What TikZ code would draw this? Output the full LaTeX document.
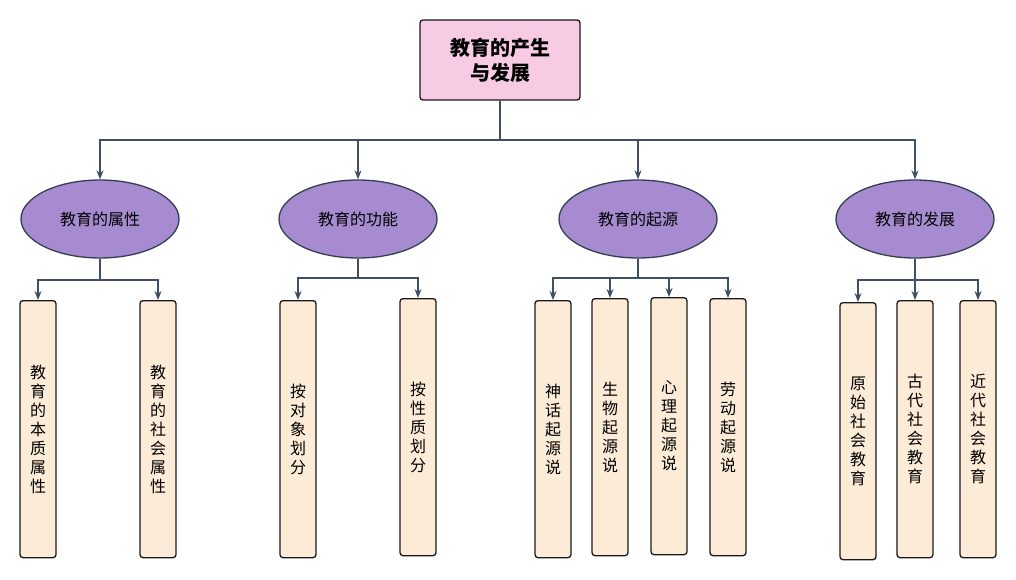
\documentclass[tikz,border=0pt]{standalone}
\usepackage{fontspec}
\setmainfont{Noto Sans CJK SC}
\usetikzlibrary{shapes.geometric,arrows.meta}
\definecolor{rootfill}{HTML}{F8CBE4}
\definecolor{ellfill}{HTML}{A78BD1}
\definecolor{boxfill}{HTML}{FCEBD6}
\definecolor{conn}{HTML}{3E4F66}
\begin{document}
\begin{tikzpicture}[x=1pt,y=-1pt,
  rootbox/.style={draw=black!90,line width=1.3pt,fill=rootfill,rounded corners=3pt,minimum width=160pt,minimum height=80pt,font=\fontsize{20}{25}\selectfont\bfseries,align=center},
  ell/.style={ellipse,draw=conn!80!black,line width=1.3pt,fill=ellfill,minimum width=158pt,minimum height=78pt,font=\fontsize{16}{20}\selectfont},
  leaf/.style={draw=black!90,line width=1.3pt,fill=boxfill,rounded corners=3pt,minimum width=36pt,minimum height=257pt,anchor=north,font=\fontsize{16}{19}\selectfont,align=center,text width=17pt,inner sep=0pt},
  conline/.style={draw=conn,line width=1.4pt},
  arr/.style={conline,-{Stealth[length=9pt,width=7pt]}}]
\useasboundingbox (0,0) rectangle (1016,580);
\fill[white] (0,0) rectangle (1016,580);
\node[rootbox] (root) at (500,60) {教育的产生\\与发展};
\node[ell] (e1) at (100,219) {教育的属性};
\node[ell] (e2) at (358,219) {教育的功能};
\node[ell] (e3) at (638,219) {教育的起源};
\node[ell] (e4) at (915,219) {教育的发展};
\node[leaf] (a1) at (38,300) {教\\育\\的\\本\\质\\属\\性};
\node[leaf] (a2) at (158,300) {教\\育\\的\\社\\会\\属\\性};
\node[leaf] (b1) at (298,300) {按\\对\\象\\划\\分};
\node[leaf] (b2) at (418,298) {按\\性\\质\\划\\分};
\node[leaf] (c1) at (553,300) {神\\话\\起\\源\\说};
\node[leaf] (c2) at (610,298) {生\\物\\起\\源\\说};
\node[leaf] (c3) at (669,297) {心\\理\\起\\源\\说};
\node[leaf] (c4) at (728,298) {劳\\动\\起\\源\\说};
\node[leaf] (d1) at (858,302) {原\\始\\社\\会\\教\\育};
\node[leaf] (d2) at (915,300) {古\\代\\社\\会\\教\\育};
\node[leaf] (d3) at (978,300) {近\\代\\社\\会\\教\\育};
\coordinate (rb) at (500,140);
\draw[conline] (root.south) -- (rb);
\foreach \e in {e1,e2,e3,e4} \draw[arr] (rb) -| (\e.north);
\foreach \p/\ys/\cs in {e1/280/{a1,a2},e2/278/{b1,b2},e3/278/{c1,c2,c3,c4},e4/280/{d1,d2,d3}}{
  \coordinate (j) at ([yshift=\ys]\p.south |- 0,0);
  \foreach \c in \cs {
    \draw[conline] (\p.south) -- (\p.south |- 0,\ys);
    \draw[arr] (\p.south |- 0,\ys) -| (\c.north);
  }
}
\end{tikzpicture}
\end{document}
